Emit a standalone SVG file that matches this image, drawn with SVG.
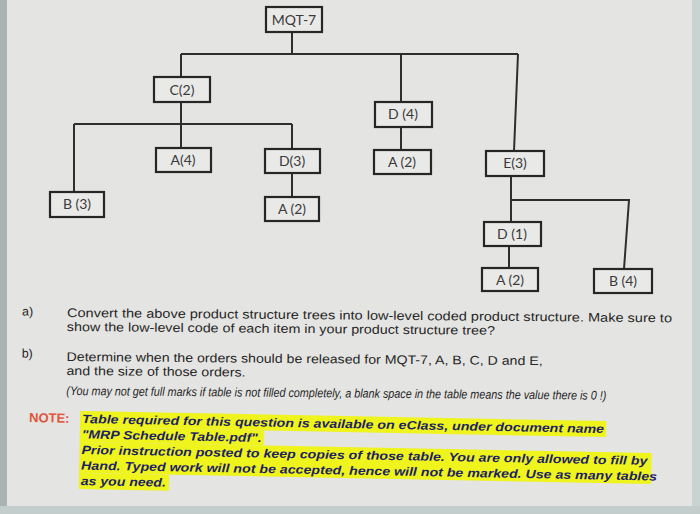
<svg xmlns="http://www.w3.org/2000/svg" width="700" height="514" viewBox="0 0 700 514">
<style>
.node rect{fill:#e9e9e7;stroke:#262626;stroke-width:2.2}
.node text{font-family:Lato,"Open Sans",sans-serif;font-size:14px;fill:#3a3a3a;text-anchor:middle}
.conn{stroke:#2e2e2e;stroke-width:2;fill:none}
.q{font-family:"Liberation Sans",Arial,sans-serif;font-size:12.5px;fill:#262626}
.note{font-family:"Liberation Sans",Arial,sans-serif;font-size:12px;font-weight:bold;font-style:italic;fill:#1e1e66}
.hl{fill:#eef41c}
</style>
<rect x="0" y="0" width="700" height="514" fill="#e4e4e2"/>
<rect x="0" y="0" width="7" height="514" fill="#aab4b4"/>
<rect x="692" y="0" width="8" height="514" fill="#c9d3d2"/>
<rect x="0" y="506" width="700" height="8" fill="#c3cdcc"/>

<g id="connectors" class="conn">
<path d="M292,32 V54 M181,54 H518 M181,54 V77 M401,54 V102 M518,54 L514,151"/>
<path d="M181,102 V124 M74,124 H292 M74,124 V192 M181,124 V148 M292,124 V149 M292,173 V197"/>
<path d="M401,127 V150"/>
<path d="M511,176 V222 M511,200 H629 L624,269 M509,246 V268"/>
</g>

<g id="n-mqt7" class="node"><rect x="266" y="7" width="56" height="25"/><text x="294" y="25">MQT-7</text></g>
<g id="n-c2" class="node"><rect x="154" y="77" width="56" height="25"/><text x="182" y="95">C(2)</text></g>
<g id="n-a4" class="node"><rect x="156" y="148" width="55" height="24"/><text x="183" y="165">A(4)</text></g>
<g id="n-d3" class="node"><rect x="265" y="149" width="55" height="24"/><text x="292" y="166">D(3)</text></g>
<g id="n-b3" class="node"><rect x="50" y="192" width="54" height="25"/><text x="77" y="209">B (3)</text></g>
<g id="n-a2a" class="node"><rect x="265" y="197" width="54" height="24"/><text x="292" y="214">A (2)</text></g>
<g id="n-d4" class="node"><rect x="375" y="102" width="57" height="25"/><text x="403" y="119">D (4)</text></g>
<g id="n-a2b" class="node"><rect x="374" y="150" width="57" height="24"/><text x="402" y="167">A (2)</text></g>
<g id="n-e3" class="node"><rect x="486" y="151" width="58" height="25"/><text x="515" y="168">E(3)</text></g>
<g id="n-d1" class="node"><rect x="484" y="222" width="57" height="24"/><text x="512" y="239">D (1)</text></g>
<g id="n-a2c" class="node"><rect x="482" y="268" width="56" height="23"/><text x="510" y="285">A (2)</text></g>
<g id="n-b4" class="node"><rect x="594" y="269" width="58" height="24"/><text x="623" y="286">B (4)</text></g>

<g id="questions" transform="rotate(0.5 67 316)">
<text class="q" x="22" y="316">a)</text>
<text class="q" x="67" y="317" textLength="605" lengthAdjust="spacingAndGlyphs">Convert the above product structure trees into low-level coded product structure. Make sure to</text>
<text class="q" x="67" y="331" textLength="428" lengthAdjust="spacingAndGlyphs">show the low-level code of each item in your product structure tree?</text>
<text class="q" x="22" y="358">b)</text>
<text class="q" x="67" y="361" textLength="476" lengthAdjust="spacingAndGlyphs">Determine when the orders should be released for MQT-7, A, B, C, D and E,</text>
<text class="q" x="67" y="375" textLength="179" lengthAdjust="spacingAndGlyphs">and the size of those orders.</text>
<text class="q" x="67" y="395" font-size="9" font-style="italic" textLength="540" lengthAdjust="spacingAndGlyphs">(You may not get full marks if table is not filled completely, a blank space in the table means the value there is 0 !)</text>
</g>

<g id="note" transform="rotate(1.1 82 423)">
<text x="29" y="423" font-family="Liberation Sans, Arial, sans-serif" font-size="13" font-weight="bold" fill="#e0553a">NOTE:</text>
<rect class="hl" x="80" y="411" width="526" height="16"/>
<rect class="hl" x="80" y="427" width="184" height="15"/>
<rect class="hl" x="80" y="442" width="572" height="31"/>
<rect class="hl" x="80" y="473" width="90" height="16"/>
<text class="note" x="82" y="423" textLength="522" lengthAdjust="spacingAndGlyphs">Table required for this question is available on eClass, under document name</text>
<text class="note" x="82" y="438.5" textLength="180" lengthAdjust="spacingAndGlyphs">"MRP Schedule Table.pdf".</text>
<text class="note" x="82" y="454" textLength="566" lengthAdjust="spacingAndGlyphs">Prior instruction posted to keep copies of those table. You are only allowed to fill by</text>
<text class="note" x="82" y="469.5" textLength="576" lengthAdjust="spacingAndGlyphs">Hand. Typed work will not be accepted, hence will not be marked. Use as many tables</text>
<text class="note" x="82" y="485" textLength="85" lengthAdjust="spacingAndGlyphs">as you need.</text>
</g>
</svg>
